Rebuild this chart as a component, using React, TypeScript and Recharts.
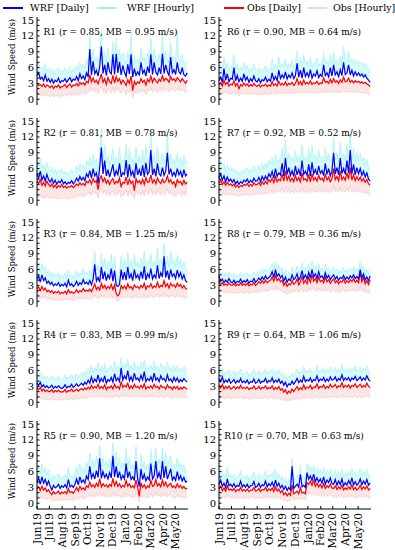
import React from 'react'
import { ComposedChart, Line, Area, XAxis, YAxis } from 'recharts'

document.body.style.margin = '0'

// one sample every 4 days, 1 Jun 2019 -> 30 May 2020
const DAY_STEP = 4
const DAYS = Array.from({ length: 92 }, (_, i) => i * DAY_STEP)
const MONTH_TICKS = [0, 30, 61, 92, 122, 153, 183, 214, 245, 274, 305, 335]
const MONTH_LABELS = ['Jun19', 'Jul19', 'Aug19', 'Sep19', 'Oct19', 'Nov19', 'Dec19', 'Jan20', 'Feb20', 'Mar20', 'Apr20', 'May20']
const Y_TICKS = [0, 1, 2, 3, 4, 5, 6, 7, 8, 9, 10, 11, 12, 13, 14, 15]

const R1_WRF_DAILY = [4.5, 5.0, 3.8, 4.2, 3.5, 4.6, 3.4, 3.9, 3.2, 3.8, 3.0, 3.6, 3.3, 4.0, 3.1, 3.5, 3.4, 3.9, 3.2, 3.7, 4.1, 3.3, 3.8, 3.6, 4.3, 3.5, 4.8, 3.9, 4.4, 3.7, 5.0, 4.2, 9.5, 4.6, 7.2, 4.8, 5.5, 4.4, 6.2, 10.0, 4.9, 6.5, 4.5, 7.0, 5.2, 4.8, 8.5, 4.7, 8.6, 5.0, 7.1, 4.6, 6.4, 5.1, 4.3, 6.6, 4.8, 8.5, 4.2, 5.8, 4.5, 5.2, 4.6, 7.0, 4.9, 5.5, 4.4, 6.2, 5.0, 8.5, 4.7, 7.0, 5.1, 4.6, 6.0, 4.8, 8.6, 4.9, 6.5, 5.2, 4.5, 8.0, 5.0, 5.6, 4.7, 7.0, 5.2, 4.8, 6.0, 4.6, 4.4, 5.0]
const R1_OBS_DAILY = [3.0, 2.6, 2.8, 2.4, 2.9, 2.3, 2.7, 2.5, 2.2, 2.6, 2.0, 2.5, 2.3, 2.7, 2.1, 2.4, 2.5, 2.8, 2.2, 2.6, 2.9, 2.3, 2.7, 2.6, 3.0, 2.5, 3.2, 2.8, 3.1, 2.7, 3.4, 3.1, 4.6, 3.3, 4.0, 3.2, 3.6, 2.9, 3.8, 4.8, 3.2, 3.9, 2.8, 4.1, 3.3, 3.0, 4.5, 3.1, 4.3, 3.4, 3.9, 2.9, 3.6, 3.2, 2.6, 3.7, 3.0, 4.4, 1.6, 3.4, 2.8, 3.3, 3.0, 3.9, 3.2, 3.6, 2.7, 3.8, 3.3, 4.4, 3.2, 4.0, 3.5, 3.1, 3.8, 3.4, 4.5, 3.5, 4.0, 3.7, 3.2, 4.3, 3.6, 3.9, 3.4, 4.1, 3.7, 3.3, 3.9, 3.5, 3.0, 3.6]
const R1_WRF_HOURLY_MAX = [6.5, 7.0, 5.8, 6.2, 5.5, 6.8, 5.2, 5.9, 5.0, 5.8, 4.8, 5.5, 5.2, 6.0, 4.9, 5.4, 5.3, 5.9, 5.0, 5.6, 6.2, 5.1, 5.8, 5.6, 6.5, 5.4, 7.0, 6.0, 6.6, 5.7, 7.5, 6.5, 12.0, 7.0, 9.5, 7.2, 8.0, 6.8, 9.0, 13.0, 7.2, 9.0, 6.8, 9.8, 7.5, 7.0, 11.0, 7.0, 11.5, 7.4, 9.5, 7.0, 8.8, 7.5, 6.6, 9.0, 7.2, 12.5, 6.4, 8.2, 6.8, 7.6, 6.9, 9.6, 7.3, 8.0, 6.7, 8.8, 7.4, 11.5, 7.0, 9.5, 7.6, 6.9, 8.5, 7.2, 12.5, 7.3, 9.0, 7.7, 6.8, 11.0, 7.4, 8.1, 7.0, 13.0, 7.6, 7.1, 8.5, 6.9, 6.6, 7.4]
const R1_OBS_HOURLY_MIN = [1.2, 0.8, 1.0, 0.6, 1.1, 0.5, 0.9, 0.7, 0.5, 0.8, 0.4, 0.7, 0.6, 0.9, 0.4, 0.6, 0.7, 1.0, 0.5, 0.8, 1.1, 0.6, 0.9, 0.8, 1.2, 0.7, 1.4, 1.0, 1.3, 0.9, 1.5, 1.3, 2.4, 1.5, 2.0, 1.4, 1.7, 1.1, 1.9, 2.5, 1.4, 1.9, 1.0, 2.1, 1.5, 1.2, 2.3, 1.3, 2.2, 1.6, 1.9, 1.1, 1.7, 1.4, 0.9, 1.8, 1.2, 2.2, 0.3, 1.6, 1.0, 1.5, 1.2, 1.9, 1.4, 1.7, 0.9, 1.8, 1.5, 2.2, 1.4, 2.0, 1.6, 1.3, 1.8, 1.5, 2.3, 1.6, 2.0, 1.8, 1.4, 2.1, 1.7, 1.9, 1.5, 2.0, 1.8, 1.4, 1.9, 1.6, 1.2, 1.7]

const R2_WRF_DAILY = [5.0, 4.2, 5.5, 3.8, 4.6, 3.6, 4.9, 3.9, 3.4, 4.1, 3.2, 3.8, 3.0, 3.6, 3.3, 3.9, 3.1, 3.5, 3.0, 3.4, 3.2, 3.7, 3.1, 3.5, 4.2, 3.6, 4.5, 3.8, 4.3, 3.7, 5.0, 4.4, 5.6, 4.2, 6.0, 4.6, 5.2, 3.2, 6.2, 10.0, 5.0, 7.5, 4.6, 5.8, 4.4, 5.5, 6.8, 4.5, 5.6, 4.8, 7.0, 4.4, 5.2, 4.9, 7.6, 4.3, 6.8, 4.7, 5.5, 4.2, 7.0, 4.8, 5.8, 4.6, 6.6, 4.4, 7.1, 4.9, 5.4, 9.5, 4.8, 6.0, 4.5, 7.0, 5.0, 4.6, 6.2, 4.7, 5.5, 9.0, 4.9, 6.0, 4.6, 5.3, 4.5, 6.0, 4.8, 5.5, 4.3, 5.8, 4.6, 5.0]
const R2_OBS_DAILY = [3.6, 3.2, 3.9, 2.8, 3.4, 2.7, 3.6, 3.0, 2.6, 3.1, 2.4, 2.9, 2.3, 2.8, 2.5, 3.0, 2.4, 2.7, 2.3, 2.6, 2.5, 2.8, 2.4, 2.7, 3.1, 2.8, 3.3, 2.9, 3.2, 2.8, 3.6, 3.3, 3.9, 3.1, 4.1, 3.4, 3.7, 2.0, 4.0, 4.6, 3.5, 4.2, 3.2, 3.8, 3.0, 3.7, 4.1, 3.1, 3.6, 3.3, 4.2, 2.6, 3.4, 3.2, 4.4, 2.9, 4.0, 3.2, 3.6, 1.8, 4.1, 3.3, 3.7, 3.1, 4.0, 3.0, 4.3, 3.4, 3.5, 4.8, 3.3, 3.9, 3.1, 4.2, 3.5, 3.2, 4.0, 3.3, 3.6, 4.6, 3.4, 3.9, 3.1, 3.5, 2.6, 3.9, 3.3, 3.6, 2.9, 3.8, 3.1, 3.4]
const R2_WRF_HOURLY_MAX = [7.5, 6.4, 8.0, 6.0, 6.9, 5.7, 7.2, 6.0, 5.4, 6.3, 5.1, 5.9, 4.9, 5.6, 5.2, 6.0, 5.0, 5.5, 4.8, 5.4, 5.1, 5.8, 5.0, 5.5, 6.5, 5.7, 6.9, 6.0, 6.6, 5.8, 7.5, 6.8, 8.2, 6.5, 8.8, 7.0, 7.8, 5.4, 9.0, 13.5, 7.5, 10.5, 7.0, 8.5, 6.8, 8.0, 9.8, 6.9, 8.2, 7.2, 10.0, 6.8, 7.7, 7.3, 10.8, 6.6, 9.8, 7.1, 8.0, 6.4, 10.0, 7.2, 8.4, 7.0, 9.5, 6.7, 10.2, 7.3, 7.9, 12.8, 7.2, 8.8, 6.9, 10.0, 7.5, 7.0, 9.0, 7.1, 8.1, 12.5, 7.3, 8.8, 7.0, 7.8, 6.9, 8.8, 7.2, 8.0, 6.6, 8.5, 7.0, 7.4]
const R2_OBS_HOURLY_MIN = [1.0, 0.6, 1.2, 0.4, 0.8, 0.3, 1.0, 0.5, 0.3, 0.6, 0.2, 0.5, 0.2, 0.4, 0.3, 0.6, 0.3, 0.5, 0.2, 0.4, 0.3, 0.6, 0.3, 0.5, 0.9, 0.6, 1.1, 0.7, 1.0, 0.6, 1.3, 1.1, 1.6, 0.9, 1.8, 1.2, 1.5, 0.4, 1.7, 2.2, 1.3, 1.9, 1.0, 1.6, 0.9, 1.5, 1.8, 0.9, 1.4, 1.1, 1.9, 0.6, 1.2, 1.0, 2.0, 0.8, 1.8, 1.0, 1.4, 0.3, 1.9, 1.1, 1.5, 0.9, 1.8, 0.8, 2.0, 1.2, 1.3, 2.3, 1.1, 1.7, 0.9, 1.9, 1.3, 1.0, 1.8, 1.1, 1.4, 2.2, 1.2, 1.7, 0.9, 1.3, 0.6, 1.7, 1.1, 1.4, 0.8, 1.6, 0.9, 1.2]

const R3_WRF_DAILY = [4.2, 4.8, 3.6, 5.0, 3.9, 4.4, 3.4, 3.8, 3.2, 3.6, 2.9, 3.3, 3.0, 3.5, 2.8, 3.2, 2.9, 3.4, 2.7, 4.0, 3.0, 3.3, 2.8, 3.1, 3.8, 3.0, 3.5, 3.2, 4.1, 3.3, 3.6, 3.2, 3.9, 3.1, 4.2, 7.0, 3.8, 4.5, 3.6, 6.5, 4.2, 5.6, 3.9, 5.0, 4.3, 6.2, 3.8, 5.8, 3.0, 2.8, 3.2, 6.0, 4.1, 5.5, 4.0, 6.5, 4.3, 5.2, 3.9, 6.0, 4.4, 5.0, 4.1, 5.6, 4.3, 6.6, 4.0, 5.2, 4.5, 6.2, 4.2, 5.0, 4.4, 6.8, 4.3, 5.4, 4.6, 8.5, 4.5, 5.8, 4.1, 6.0, 4.7, 5.2, 4.3, 5.9, 4.6, 5.4, 4.2, 5.0, 3.9, 3.6]
const R3_OBS_DAILY = [2.4, 2.7, 2.0, 2.8, 2.1, 2.5, 1.8, 2.1, 1.7, 2.0, 1.5, 1.8, 1.6, 1.9, 1.4, 1.7, 1.5, 1.9, 1.4, 2.2, 1.6, 1.8, 1.5, 1.7, 2.2, 1.6, 2.0, 1.8, 2.4, 1.9, 2.1, 1.9, 2.3, 1.8, 2.5, 3.3, 2.2, 2.7, 2.1, 3.4, 2.5, 3.0, 2.3, 2.8, 2.4, 3.2, 2.2, 3.1, 1.4, 1.0, 1.5, 3.0, 2.4, 2.9, 2.3, 3.3, 2.5, 2.8, 2.2, 3.1, 2.6, 2.8, 2.4, 3.0, 2.6, 3.4, 2.3, 2.9, 2.7, 3.3, 2.5, 2.9, 2.6, 3.6, 2.6, 3.0, 2.8, 3.9, 2.8, 3.3, 2.5, 3.4, 2.9, 3.1, 2.6, 3.4, 2.8, 3.2, 2.5, 3.0, 2.4, 2.3]
const R3_WRF_HOURLY_MAX = [6.5, 7.0, 5.6, 7.2, 5.9, 6.5, 5.3, 5.8, 5.0, 5.5, 4.6, 5.1, 4.7, 5.4, 4.4, 5.0, 4.6, 5.3, 4.3, 6.0, 4.7, 5.1, 4.4, 4.9, 5.8, 4.7, 5.4, 5.0, 6.2, 5.1, 5.5, 5.0, 6.0, 4.9, 6.5, 9.5, 5.9, 6.8, 5.6, 9.0, 6.4, 8.2, 6.0, 7.5, 6.6, 9.0, 5.9, 8.5, 4.8, 4.6, 5.0, 8.6, 6.3, 8.0, 6.2, 9.2, 6.6, 7.8, 6.0, 8.8, 6.7, 7.5, 6.3, 8.2, 6.6, 9.5, 6.2, 7.7, 6.9, 9.0, 6.5, 7.5, 6.8, 10.0, 6.6, 8.0, 7.0, 11.0, 6.9, 8.6, 6.3, 9.5, 7.1, 7.8, 6.6, 8.7, 7.0, 8.0, 6.4, 7.5, 6.0, 5.6]
const R3_OBS_HOURLY_MIN = [0.7, 0.9, 0.4, 1.0, 0.5, 0.8, 0.3, 0.5, 0.3, 0.4, 0.2, 0.3, 0.2, 0.4, 0.2, 0.3, 0.2, 0.4, 0.2, 0.6, 0.3, 0.4, 0.2, 0.3, 0.6, 0.3, 0.5, 0.4, 0.7, 0.4, 0.5, 0.4, 0.6, 0.3, 0.7, 1.2, 0.6, 0.8, 0.5, 1.3, 0.7, 1.0, 0.6, 0.9, 0.6, 1.1, 0.5, 1.0, 0.2, 0.1, 0.3, 1.0, 0.6, 0.9, 0.6, 1.2, 0.7, 0.9, 0.5, 1.1, 0.7, 0.9, 0.6, 1.0, 0.7, 1.3, 0.5, 0.9, 0.8, 1.2, 0.7, 0.9, 0.8, 1.4, 0.7, 1.0, 0.8, 1.6, 0.8, 1.2, 0.6, 1.2, 0.9, 1.0, 0.7, 1.2, 0.8, 1.1, 0.6, 0.9, 0.5, 0.5]

const R4_WRF_DAILY = [3.6, 3.2, 3.8, 2.9, 3.3, 2.8, 3.1, 2.7, 2.9, 3.2, 2.6, 3.0, 2.7, 3.1, 2.8, 2.6, 2.8, 3.3, 2.7, 3.0, 2.9, 3.4, 2.8, 3.1, 3.5, 3.0, 3.3, 3.6, 3.2, 3.8, 3.4, 4.2, 3.6, 4.8, 3.7, 4.4, 3.9, 5.2, 3.8, 4.5, 3.9, 5.0, 3.6, 4.3, 4.0, 4.7, 3.8, 5.4, 4.1, 4.6, 3.9, 6.5, 4.2, 5.0, 4.4, 6.0, 4.1, 4.8, 4.0, 5.5, 4.3, 4.6, 4.0, 5.1, 4.2, 5.8, 3.9, 4.5, 4.1, 4.8, 4.0, 5.5, 4.2, 4.6, 3.9, 5.0, 4.3, 4.5, 3.9, 5.2, 4.1, 4.4, 3.8, 4.7, 4.0, 4.6, 3.8, 4.3, 3.9, 4.5, 4.1, 3.8]
const R4_OBS_DAILY = [2.7, 2.4, 2.8, 2.1, 2.5, 2.0, 2.3, 2.0, 2.1, 2.4, 1.9, 2.2, 2.0, 2.3, 2.0, 1.9, 2.0, 2.4, 1.9, 2.2, 2.1, 2.5, 2.0, 2.2, 2.5, 2.1, 2.4, 2.6, 2.3, 2.7, 2.4, 2.9, 2.5, 3.2, 2.6, 3.0, 2.7, 3.4, 2.6, 3.0, 2.6, 3.3, 2.4, 2.9, 2.7, 3.1, 2.5, 3.4, 2.7, 3.0, 2.5, 3.9, 2.8, 3.2, 2.9, 3.6, 2.6, 3.1, 2.6, 3.4, 2.8, 3.0, 2.6, 3.2, 2.7, 3.5, 2.5, 2.9, 2.7, 3.1, 2.6, 3.4, 2.8, 3.0, 2.5, 3.2, 2.8, 2.9, 2.5, 3.3, 2.7, 2.9, 2.4, 3.0, 2.6, 3.0, 2.4, 2.8, 2.5, 2.9, 2.7, 2.5]
const R4_WRF_HOURLY_MAX = [5.5, 5.0, 5.8, 4.6, 5.1, 4.5, 4.9, 4.4, 4.6, 5.0, 4.2, 4.7, 4.3, 4.9, 4.5, 4.2, 4.5, 5.2, 4.3, 4.7, 4.6, 5.3, 4.5, 4.9, 5.4, 4.7, 5.2, 5.6, 5.0, 5.9, 5.3, 6.3, 5.5, 7.0, 5.6, 6.6, 5.9, 7.5, 5.8, 6.8, 5.9, 7.4, 5.5, 6.5, 6.1, 7.0, 5.8, 7.8, 6.2, 6.9, 5.9, 8.5, 6.4, 7.4, 6.6, 8.2, 6.2, 7.1, 6.1, 7.8, 6.5, 6.9, 6.1, 7.5, 6.4, 8.0, 5.9, 6.8, 6.2, 7.1, 6.1, 7.9, 6.4, 6.9, 5.9, 7.4, 6.5, 6.8, 5.9, 7.6, 6.2, 6.6, 5.8, 7.0, 6.1, 6.9, 5.8, 6.5, 5.9, 6.8, 6.2, 5.8]
const R4_OBS_HOURLY_MIN = [0.9, 0.7, 1.0, 0.5, 0.8, 0.4, 0.6, 0.4, 0.5, 0.7, 0.4, 0.6, 0.4, 0.6, 0.4, 0.4, 0.4, 0.7, 0.4, 0.6, 0.5, 0.8, 0.4, 0.6, 0.8, 0.5, 0.7, 0.9, 0.6, 1.0, 0.7, 1.1, 0.8, 1.3, 0.9, 1.2, 0.9, 1.4, 0.9, 1.2, 0.9, 1.3, 0.7, 1.1, 0.9, 1.2, 0.8, 1.4, 1.0, 1.2, 0.8, 1.6, 1.0, 1.3, 1.1, 1.5, 0.9, 1.2, 0.9, 1.4, 1.0, 1.2, 0.9, 1.3, 1.0, 1.4, 0.8, 1.1, 1.0, 1.2, 0.9, 1.4, 1.0, 1.2, 0.8, 1.3, 1.0, 1.1, 0.8, 1.3, 1.0, 1.1, 0.7, 1.2, 0.9, 1.2, 0.8, 1.0, 0.8, 1.1, 0.9, 0.8]

const R5_WRF_DAILY = [4.0, 4.8, 3.6, 5.0, 3.8, 4.5, 3.4, 4.2, 3.2, 2.5, 3.4, 2.9, 3.1, 3.6, 2.8, 3.3, 3.0, 3.5, 2.9, 4.5, 3.1, 3.4, 3.0, 3.6, 4.6, 3.5, 5.0, 3.9, 4.4, 3.8, 5.2, 4.5, 7.0, 4.8, 5.6, 4.6, 6.2, 4.9, 8.5, 4.7, 6.0, 4.9, 5.5, 4.6, 5.8, 4.8, 9.0, 5.0, 7.0, 4.8, 6.0, 4.5, 5.3, 4.6, 7.5, 4.8, 6.0, 4.5, 5.0, 4.3, 8.0, 4.6, 3.2, 6.5, 4.5, 5.5, 4.2, 5.0, 4.4, 7.5, 4.6, 5.2, 8.0, 4.7, 5.8, 4.5, 8.0, 4.8, 7.0, 4.6, 5.5, 6.5, 4.4, 5.0, 4.3, 6.0, 4.5, 5.2, 4.2, 4.9, 4.0, 4.2]
const R5_OBS_DAILY = [2.7, 3.1, 2.4, 3.2, 2.5, 2.9, 2.2, 2.6, 2.0, 1.6, 2.2, 1.8, 2.0, 2.3, 1.7, 2.1, 1.9, 2.2, 1.8, 2.8, 2.0, 2.2, 1.9, 2.4, 3.0, 2.3, 3.2, 2.6, 2.9, 2.5, 3.3, 3.0, 4.0, 3.1, 3.5, 3.0, 3.8, 3.2, 4.6, 3.1, 3.7, 3.2, 3.5, 3.0, 3.6, 3.2, 4.7, 3.3, 4.1, 3.2, 3.7, 3.0, 3.4, 3.1, 4.3, 3.2, 3.7, 3.0, 3.3, 2.9, 4.4, 3.1, 1.3, 3.9, 3.0, 3.5, 2.8, 3.3, 3.0, 4.3, 3.2, 3.4, 4.5, 3.3, 3.7, 3.1, 4.4, 3.3, 4.0, 3.1, 3.5, 3.8, 3.0, 3.3, 2.9, 3.7, 3.0, 3.4, 2.8, 3.2, 2.7, 2.9]
const R5_WRF_HOURLY_MAX = [6.2, 7.2, 5.6, 7.4, 5.9, 6.8, 5.3, 6.4, 5.0, 4.2, 5.3, 4.6, 4.9, 5.6, 4.5, 5.1, 4.7, 5.4, 4.6, 6.8, 4.9, 5.3, 4.7, 5.6, 7.0, 5.5, 7.5, 6.0, 6.8, 5.9, 7.8, 6.8, 9.5, 7.2, 8.2, 6.9, 9.0, 7.3, 11.0, 7.0, 8.6, 7.2, 8.0, 6.9, 8.4, 7.1, 11.5, 7.4, 9.8, 7.1, 8.6, 6.8, 7.8, 6.9, 10.5, 7.1, 8.6, 6.8, 7.4, 6.5, 10.8, 6.9, 5.0, 9.2, 6.8, 8.0, 6.4, 7.4, 6.6, 10.2, 6.9, 7.6, 10.6, 7.0, 8.4, 6.8, 10.5, 7.1, 9.6, 6.9, 8.0, 9.0, 6.6, 7.4, 6.5, 8.6, 6.7, 7.6, 6.3, 7.2, 6.0, 6.3]
const R5_OBS_HOURLY_MIN = [1.0, 1.3, 0.8, 1.4, 0.9, 1.1, 0.7, 0.9, 0.6, 0.4, 0.7, 0.5, 0.6, 0.7, 0.5, 0.6, 0.5, 0.7, 0.5, 1.0, 0.6, 0.7, 0.5, 0.8, 1.2, 0.7, 1.3, 0.9, 1.1, 0.8, 1.4, 1.2, 1.8, 1.2, 1.5, 1.1, 1.7, 1.3, 2.2, 1.2, 1.6, 1.3, 1.5, 1.1, 1.5, 1.2, 2.2, 1.3, 1.8, 1.2, 1.6, 1.1, 1.4, 1.2, 1.9, 1.2, 1.6, 1.1, 1.3, 1.0, 2.0, 1.2, 0.3, 1.7, 1.1, 1.5, 1.0, 1.3, 1.1, 1.9, 1.2, 1.4, 2.1, 1.3, 1.6, 1.2, 2.0, 1.3, 1.8, 1.2, 1.5, 1.7, 1.1, 1.3, 1.0, 1.6, 1.1, 1.4, 1.0, 1.2, 0.9, 1.0]

const R6_WRF_DAILY = [3.5, 4.2, 3.2, 5.8, 3.6, 4.8, 3.3, 4.0, 3.8, 6.0, 3.5, 4.5, 3.3, 4.0, 3.4, 4.8, 3.6, 4.2, 3.2, 3.9, 3.4, 4.4, 3.5, 3.3, 3.9, 3.1, 3.7, 3.5, 4.2, 3.3, 3.8, 3.4, 5.0, 3.6, 4.3, 3.5, 5.5, 3.9, 4.6, 4.0, 5.2, 3.8, 4.6, 4.1, 5.0, 3.9, 4.5, 6.8, 4.2, 5.5, 4.0, 6.0, 4.3, 5.0, 4.2, 5.6, 4.0, 4.8, 4.4, 5.4, 4.1, 4.7, 4.3, 6.5, 4.5, 5.0, 4.2, 6.0, 4.4, 6.5, 4.6, 5.2, 4.3, 5.6, 4.5, 7.0, 4.7, 5.0, 6.5, 4.6, 5.5, 4.4, 5.2, 4.5, 5.0, 4.4, 4.8, 4.2, 4.6, 4.0, 3.6, 3.2]
const R6_OBS_DAILY = [2.7, 3.1, 2.5, 3.6, 2.8, 3.2, 2.5, 2.9, 2.7, 3.5, 2.5, 3.0, 2.0, 2.8, 2.5, 3.1, 2.6, 2.9, 2.4, 2.8, 2.5, 3.0, 2.6, 2.4, 2.8, 2.3, 2.7, 2.5, 2.9, 2.4, 2.7, 2.5, 3.3, 2.6, 2.9, 2.5, 3.4, 2.7, 3.0, 2.7, 3.3, 2.6, 3.0, 2.8, 3.2, 2.6, 3.0, 3.9, 2.8, 3.4, 2.7, 3.6, 2.9, 3.2, 2.9, 3.5, 2.8, 3.1, 3.0, 3.4, 2.8, 3.1, 3.0, 4.0, 3.2, 3.4, 3.0, 3.8, 3.1, 3.9, 3.2, 3.5, 3.0, 3.7, 3.2, 4.2, 3.3, 3.4, 4.0, 3.2, 3.6, 3.1, 3.5, 3.2, 3.4, 3.1, 3.3, 3.0, 3.2, 2.9, 2.7, 2.4]
const R6_WRF_HOURLY_MAX = [5.5, 6.5, 5.2, 8.0, 5.8, 7.0, 5.3, 6.2, 6.0, 8.5, 5.6, 6.8, 5.3, 6.2, 5.4, 7.0, 5.7, 6.4, 5.1, 6.0, 5.4, 6.6, 5.5, 5.2, 6.0, 5.0, 5.8, 5.5, 6.4, 5.2, 5.9, 5.3, 7.5, 5.6, 6.5, 5.5, 8.0, 6.0, 6.8, 6.1, 7.6, 5.9, 6.8, 6.2, 7.4, 6.0, 6.7, 9.0, 6.3, 7.8, 6.1, 8.4, 6.5, 7.3, 6.3, 8.0, 6.1, 7.0, 6.6, 7.8, 6.2, 6.9, 6.5, 8.8, 6.7, 7.3, 6.4, 8.4, 6.6, 8.8, 6.8, 7.5, 6.5, 8.0, 6.7, 10.0, 6.9, 7.2, 9.0, 6.8, 7.8, 6.6, 7.5, 6.7, 7.2, 6.6, 7.0, 6.3, 6.8, 6.1, 5.6, 5.0]
const R6_OBS_HOURLY_MIN = [1.0, 1.3, 0.9, 1.6, 1.1, 1.4, 0.9, 1.2, 1.0, 1.5, 0.9, 1.2, 0.6, 1.1, 0.9, 1.3, 1.0, 1.2, 0.8, 1.1, 0.9, 1.2, 1.0, 0.8, 1.1, 0.8, 1.0, 0.9, 1.2, 0.8, 1.0, 0.9, 1.4, 1.0, 1.2, 0.9, 1.5, 1.0, 1.2, 1.0, 1.4, 1.0, 1.2, 1.1, 1.3, 1.0, 1.2, 1.7, 1.1, 1.4, 1.0, 1.5, 1.1, 1.3, 1.1, 1.5, 1.1, 1.3, 1.2, 1.4, 1.1, 1.3, 1.2, 1.7, 1.3, 1.4, 1.2, 1.6, 1.2, 1.6, 1.3, 1.4, 1.2, 1.5, 1.3, 1.8, 1.3, 1.4, 1.7, 1.3, 1.5, 1.2, 1.4, 1.3, 1.4, 1.2, 1.3, 1.2, 1.3, 1.1, 1.0, 0.8]

const R7_WRF_DAILY = [4.2, 5.0, 3.8, 4.6, 3.5, 4.4, 3.6, 4.0, 3.4, 3.9, 3.1, 3.6, 3.0, 3.5, 3.2, 3.8, 3.5, 4.0, 3.3, 3.8, 3.4, 4.2, 3.6, 3.7, 4.3, 3.5, 4.5, 3.8, 4.6, 3.9, 5.0, 4.4, 5.5, 4.2, 6.0, 4.5, 5.2, 4.8, 7.0, 4.6, 8.0, 4.9, 6.2, 4.7, 5.6, 4.5, 6.5, 4.8, 5.8, 4.6, 7.5, 4.9, 5.5, 4.7, 6.8, 4.6, 7.2, 5.0, 5.8, 4.8, 6.5, 5.1, 5.6, 4.7, 7.0, 4.9, 6.0, 4.6, 5.5, 9.0, 5.0, 6.2, 4.8, 8.0, 5.1, 6.0, 4.9, 7.5, 5.2, 9.5, 5.0, 6.8, 4.8, 6.2, 5.0, 6.0, 4.7, 5.5, 4.4, 5.2, 4.0, 3.6]
const R7_OBS_DAILY = [3.3, 3.8, 3.0, 3.5, 2.8, 3.4, 2.9, 3.1, 2.7, 3.1, 2.5, 2.9, 2.4, 2.8, 2.6, 3.0, 2.8, 3.2, 2.6, 3.0, 2.7, 3.3, 2.9, 3.0, 3.4, 2.8, 3.5, 3.0, 3.6, 3.1, 3.9, 3.5, 4.2, 3.3, 4.5, 3.5, 4.0, 3.7, 5.0, 3.6, 5.5, 3.8, 4.6, 3.6, 4.2, 3.5, 4.7, 3.7, 4.3, 3.5, 5.2, 3.8, 4.1, 3.6, 4.9, 3.5, 5.0, 3.8, 4.3, 3.6, 4.7, 3.9, 4.2, 3.6, 5.0, 3.8, 4.4, 3.5, 4.1, 6.0, 3.9, 4.5, 3.7, 5.5, 3.9, 4.4, 3.8, 5.2, 4.0, 6.2, 3.8, 4.8, 3.7, 4.5, 3.8, 4.4, 3.6, 4.1, 3.4, 3.9, 3.1, 2.9]
const R7_WRF_HOURLY_MAX = [6.5, 7.5, 6.0, 7.0, 5.6, 6.8, 5.7, 6.2, 5.4, 6.1, 5.0, 5.6, 4.9, 5.5, 5.1, 5.9, 5.5, 6.2, 5.2, 5.9, 5.4, 6.5, 5.6, 5.8, 6.6, 5.5, 7.0, 5.9, 7.1, 6.1, 7.6, 6.8, 8.2, 6.5, 8.8, 7.0, 7.8, 7.3, 10.0, 7.1, 11.5, 7.5, 9.0, 7.3, 8.3, 7.0, 9.4, 7.4, 8.5, 7.1, 10.5, 7.5, 8.2, 7.3, 9.8, 7.1, 10.2, 7.7, 8.6, 7.4, 9.5, 7.8, 8.3, 7.3, 10.0, 7.6, 8.8, 7.1, 8.2, 12.0, 7.7, 9.0, 7.4, 11.0, 7.8, 8.8, 7.5, 10.5, 7.9, 12.5, 7.7, 9.8, 7.4, 9.0, 7.6, 8.8, 7.2, 8.2, 6.8, 7.8, 6.2, 5.6]
const R7_OBS_HOURLY_MIN = [1.3, 1.6, 1.1, 1.4, 1.0, 1.3, 1.0, 1.2, 0.9, 1.2, 0.8, 1.0, 0.8, 1.0, 0.9, 1.1, 1.0, 1.2, 0.9, 1.1, 0.9, 1.3, 1.0, 1.1, 1.3, 1.0, 1.4, 1.1, 1.4, 1.2, 1.6, 1.4, 1.8, 1.3, 2.0, 1.4, 1.7, 1.5, 2.3, 1.4, 2.6, 1.5, 2.0, 1.4, 1.8, 1.3, 2.0, 1.5, 1.8, 1.4, 2.4, 1.5, 1.7, 1.4, 2.1, 1.4, 2.2, 1.5, 1.8, 1.4, 2.0, 1.6, 1.8, 1.4, 2.2, 1.5, 1.9, 1.4, 1.7, 2.8, 1.6, 1.9, 1.5, 2.5, 1.6, 1.9, 1.5, 2.3, 1.6, 2.9, 1.5, 2.1, 1.5, 1.9, 1.5, 1.9, 1.4, 1.7, 1.3, 1.6, 1.1, 1.0]

const R8_WRF_DAILY = [4.8, 3.8, 4.2, 3.5, 4.0, 3.6, 4.3, 3.7, 3.5, 4.0, 3.4, 3.8, 3.6, 4.2, 3.5, 3.9, 3.6, 4.1, 3.4, 3.8, 3.7, 4.3, 3.6, 3.9, 4.4, 4.0, 4.6, 4.1, 4.8, 4.2, 4.5, 4.8, 5.6, 4.5, 6.0, 4.7, 5.2, 4.4, 4.9, 3.8, 4.6, 3.6, 4.2, 3.9, 5.0, 4.1, 4.4, 5.2, 4.0, 4.6, 5.8, 4.3, 5.0, 4.2, 5.5, 4.4, 6.0, 4.6, 5.2, 4.3, 5.6, 4.5, 4.8, 4.2, 5.4, 4.4, 4.9, 4.1, 4.6, 5.0, 4.2, 4.7, 4.0, 4.5, 4.3, 4.9, 4.1, 4.6, 4.2, 4.8, 4.4, 5.0, 4.3, 4.7, 4.2, 6.0, 4.4, 5.2, 4.0, 4.6, 3.9, 4.8]
const R8_OBS_DAILY = [3.8, 3.2, 3.5, 3.0, 3.3, 3.0, 3.5, 3.1, 3.0, 3.4, 2.9, 3.2, 3.0, 3.5, 3.0, 3.3, 3.0, 3.4, 2.9, 3.2, 3.1, 3.6, 3.0, 3.3, 3.7, 3.4, 3.9, 3.4, 4.0, 3.5, 3.8, 4.0, 4.6, 3.8, 4.9, 3.9, 4.3, 3.7, 4.0, 3.0, 3.6, 2.8, 3.3, 3.1, 3.9, 3.2, 3.5, 4.2, 3.1, 3.7, 4.7, 3.4, 4.0, 3.3, 4.5, 3.6, 5.0, 3.8, 4.3, 3.5, 4.6, 3.7, 4.0, 3.5, 4.6, 3.7, 4.1, 3.4, 3.9, 4.2, 3.5, 3.9, 3.3, 3.8, 3.6, 4.2, 3.4, 3.9, 3.5, 4.1, 3.7, 4.3, 3.6, 4.0, 3.5, 5.5, 3.7, 4.5, 3.3, 3.9, 3.2, 4.0]
const R8_WRF_HOURLY_MAX = [6.2, 5.0, 5.5, 4.7, 5.3, 4.8, 5.6, 4.9, 4.7, 5.3, 4.6, 5.0, 4.8, 5.5, 4.7, 5.2, 4.8, 5.4, 4.6, 5.0, 4.9, 5.6, 4.8, 5.1, 5.8, 5.2, 6.0, 5.4, 6.2, 5.5, 5.9, 6.2, 7.2, 5.9, 7.5, 6.1, 6.8, 5.8, 6.4, 5.0, 6.0, 4.8, 5.5, 5.1, 6.5, 5.4, 5.8, 6.7, 5.3, 6.0, 7.3, 5.6, 6.5, 5.5, 7.0, 5.8, 7.6, 6.0, 6.7, 5.6, 7.2, 5.9, 6.3, 5.5, 7.0, 5.8, 6.4, 5.4, 6.0, 6.5, 5.5, 6.1, 5.3, 5.9, 5.6, 6.4, 5.4, 6.0, 5.5, 6.3, 5.8, 6.5, 5.6, 6.1, 5.5, 7.6, 5.8, 6.7, 5.3, 6.0, 5.1, 6.2]
const R8_OBS_HOURLY_MIN = [2.2, 1.7, 1.9, 1.5, 1.8, 1.5, 1.9, 1.6, 1.5, 1.8, 1.4, 1.7, 1.5, 1.9, 1.5, 1.7, 1.5, 1.8, 1.4, 1.7, 1.6, 1.9, 1.5, 1.7, 2.0, 1.8, 2.1, 1.8, 2.2, 1.9, 2.0, 2.2, 2.6, 2.0, 2.8, 2.1, 2.4, 2.0, 2.2, 1.5, 1.9, 1.3, 1.7, 1.6, 2.1, 1.7, 1.9, 2.3, 1.6, 2.0, 2.6, 1.8, 2.2, 1.7, 2.5, 1.9, 2.8, 2.0, 2.3, 1.8, 2.5, 1.9, 2.1, 1.8, 2.5, 1.9, 2.2, 1.7, 2.0, 2.3, 1.8, 2.1, 1.6, 2.0, 1.9, 2.3, 1.7, 2.1, 1.8, 2.2, 1.9, 2.4, 1.8, 2.1, 1.8, 3.0, 1.9, 2.4, 1.6, 2.0, 1.5, 2.1]

const R9_WRF_DAILY = [4.5, 3.9, 4.8, 3.7, 4.2, 3.8, 4.4, 3.6, 3.9, 4.3, 3.6, 4.1, 3.8, 4.5, 3.7, 4.0, 3.7, 4.2, 3.5, 3.9, 3.8, 4.4, 3.6, 3.8, 4.3, 3.6, 4.0, 3.9, 4.5, 3.7, 4.1, 3.9, 4.6, 3.7, 4.2, 3.8, 4.4, 3.6, 4.0, 3.2, 3.8, 2.9, 3.5, 3.3, 4.0, 3.4, 3.9, 4.5, 3.7, 4.2, 3.8, 4.9, 3.9, 4.3, 4.0, 4.6, 3.8, 4.3, 4.1, 5.0, 3.9, 4.4, 4.1, 4.7, 3.9, 4.4, 4.0, 4.8, 4.2, 4.3, 4.8, 4.0, 4.5, 4.2, 5.2, 4.1, 4.6, 4.2, 4.7, 4.0, 4.6, 4.3, 4.9, 4.1, 4.4, 4.8, 4.1, 4.6, 4.2, 5.0, 4.3, 4.0]
const R9_OBS_DAILY = [3.2, 2.7, 3.4, 2.5, 3.0, 2.6, 3.1, 2.5, 2.7, 3.0, 2.5, 2.9, 2.6, 3.2, 2.6, 2.8, 2.6, 2.9, 2.4, 2.7, 2.6, 3.1, 2.5, 2.6, 3.0, 2.5, 2.8, 2.7, 3.1, 2.5, 2.8, 2.6, 3.1, 2.4, 2.8, 2.5, 3.0, 2.3, 2.6, 1.9, 2.4, 1.6, 2.1, 1.8, 2.5, 2.0, 2.5, 3.0, 2.3, 2.8, 2.4, 3.3, 2.5, 2.9, 2.7, 3.2, 2.5, 2.9, 2.8, 3.5, 2.6, 3.0, 2.8, 3.3, 2.6, 3.0, 2.7, 3.4, 2.9, 3.0, 3.4, 2.7, 3.1, 2.9, 3.7, 2.8, 3.2, 2.9, 3.3, 2.7, 3.2, 3.0, 3.5, 2.8, 3.1, 3.4, 2.8, 3.2, 2.9, 3.6, 3.0, 2.8]
const R9_WRF_HOURLY_MAX = [6.2, 5.5, 6.6, 5.2, 5.8, 5.4, 6.1, 5.1, 5.5, 6.0, 5.1, 5.7, 5.4, 6.3, 5.2, 5.6, 5.2, 5.9, 5.0, 5.5, 5.4, 6.2, 5.1, 5.4, 6.0, 5.1, 5.6, 5.5, 6.3, 5.2, 5.8, 5.5, 6.4, 5.2, 5.9, 5.4, 6.2, 5.1, 5.6, 4.6, 5.4, 4.2, 5.0, 4.7, 5.6, 4.8, 5.5, 6.3, 5.2, 5.9, 5.4, 6.8, 5.5, 6.0, 5.6, 6.4, 5.4, 6.0, 5.8, 7.0, 5.5, 6.2, 5.8, 6.6, 5.5, 6.2, 5.6, 6.7, 5.9, 6.0, 6.7, 5.6, 6.3, 5.9, 7.2, 5.8, 6.4, 5.9, 6.6, 5.6, 6.4, 6.0, 6.9, 5.8, 6.2, 6.7, 5.8, 6.4, 5.9, 7.0, 6.0, 5.6]
const R9_OBS_HOURLY_MIN = [1.2, 0.8, 1.3, 0.6, 1.0, 0.7, 1.1, 0.6, 0.8, 1.0, 0.6, 0.9, 0.7, 1.2, 0.7, 0.8, 0.7, 0.9, 0.5, 0.8, 0.7, 1.1, 0.6, 0.7, 1.0, 0.6, 0.8, 0.8, 1.1, 0.6, 0.9, 0.7, 1.1, 0.5, 0.9, 0.6, 1.0, 0.4, 0.7, 0.3, 0.6, 0.2, 0.4, 0.3, 0.7, 0.4, 0.6, 1.0, 0.5, 0.8, 0.6, 1.2, 0.6, 0.9, 0.8, 1.1, 0.6, 0.9, 0.8, 1.3, 0.7, 1.0, 0.8, 1.2, 0.7, 1.0, 0.8, 1.2, 0.9, 1.0, 1.2, 0.8, 1.1, 0.9, 1.4, 0.8, 1.1, 0.9, 1.2, 0.8, 1.1, 1.0, 1.3, 0.8, 1.0, 1.2, 0.8, 1.1, 0.9, 1.3, 1.0, 0.8]

const R10_WRF_DAILY = [3.5, 4.4, 3.2, 3.8, 3.0, 4.6, 3.3, 3.6, 3.1, 3.7, 3.0, 3.4, 3.2, 4.2, 3.1, 3.5, 3.0, 3.6, 2.9, 3.3, 3.4, 4.1, 3.0, 3.2, 3.8, 3.0, 3.5, 3.3, 4.2, 3.1, 3.7, 3.3, 4.0, 3.1, 4.4, 3.2, 3.8, 2.9, 3.4, 2.6, 3.2, 2.4, 3.0, 2.5, 7.0, 2.8, 3.2, 3.6, 3.0, 5.5, 3.1, 3.4, 3.0, 5.8, 4.5, 5.2, 4.3, 5.5, 4.1, 4.8, 4.0, 4.6, 3.8, 5.0, 3.6, 4.4, 3.9, 4.8, 3.7, 3.6, 4.5, 3.4, 4.2, 3.5, 4.6, 3.3, 3.9, 3.4, 4.3, 3.6, 4.8, 3.5, 4.1, 3.4, 3.8, 4.6, 3.5, 4.2, 3.6, 4.5, 3.4, 3.8]
const R10_OBS_DAILY = [2.7, 3.2, 2.4, 2.9, 2.3, 3.3, 2.5, 2.7, 2.4, 2.8, 2.2, 2.6, 2.4, 3.0, 2.3, 2.6, 2.3, 2.7, 2.2, 2.5, 2.5, 3.0, 2.3, 2.4, 2.8, 2.2, 2.6, 2.5, 3.0, 2.3, 2.7, 2.4, 2.9, 2.2, 3.1, 2.3, 2.7, 2.0, 2.4, 1.6, 2.0, 1.4, 1.9, 1.5, 3.5, 1.8, 2.0, 2.3, 1.8, 2.9, 1.9, 2.1, 1.8, 3.9, 3.6, 4.2, 3.4, 4.3, 3.2, 3.8, 3.1, 3.6, 2.9, 3.7, 2.8, 3.3, 3.0, 3.6, 2.9, 2.8, 3.3, 2.6, 3.1, 2.7, 3.4, 2.5, 2.9, 2.6, 3.1, 2.7, 3.5, 2.6, 3.0, 2.5, 2.8, 3.4, 2.6, 3.1, 2.7, 3.3, 2.5, 2.8]
const R10_WRF_HOURLY_MAX = [5.2, 6.5, 4.9, 5.6, 4.6, 6.8, 5.0, 5.4, 4.8, 5.5, 4.6, 5.1, 4.9, 6.2, 4.7, 5.2, 4.6, 5.4, 4.4, 5.0, 5.1, 6.0, 4.6, 4.9, 5.6, 4.6, 5.3, 5.0, 6.2, 4.7, 5.5, 5.0, 5.9, 4.7, 6.5, 4.9, 5.6, 4.4, 5.1, 4.0, 4.8, 3.7, 4.5, 3.9, 8.5, 4.3, 4.8, 5.3, 4.6, 7.2, 4.7, 5.1, 4.5, 7.5, 6.3, 7.0, 6.0, 7.2, 5.8, 6.6, 5.7, 6.4, 5.5, 6.8, 5.3, 6.2, 5.6, 6.6, 5.4, 5.3, 6.3, 5.0, 6.0, 5.2, 6.5, 4.9, 5.7, 5.0, 6.1, 5.3, 6.7, 5.2, 5.9, 5.0, 5.6, 6.5, 5.2, 6.0, 5.3, 6.4, 5.0, 5.6]
const R10_OBS_HOURLY_MIN = [1.2, 1.5, 1.0, 1.3, 0.9, 1.6, 1.1, 1.2, 1.0, 1.3, 0.9, 1.1, 1.0, 1.4, 0.9, 1.1, 0.9, 1.2, 0.9, 1.1, 1.1, 1.4, 0.9, 1.0, 1.3, 0.9, 1.1, 1.0, 1.4, 0.9, 1.2, 1.0, 1.3, 0.9, 1.4, 0.9, 1.2, 0.7, 1.0, 0.4, 0.7, 0.3, 0.6, 0.4, 1.5, 0.6, 0.7, 0.9, 0.6, 1.2, 0.7, 0.8, 0.6, 1.8, 1.7, 2.0, 1.6, 2.1, 1.5, 1.8, 1.4, 1.7, 1.3, 1.7, 1.2, 1.5, 1.4, 1.7, 1.3, 1.2, 1.5, 1.1, 1.4, 1.2, 1.6, 1.0, 1.3, 1.1, 1.4, 1.2, 1.6, 1.1, 1.4, 1.0, 1.2, 1.6, 1.1, 1.4, 1.2, 1.5, 1.0, 1.2]

const PANELS = [
  { name: 'R1', r: '0.85', mb: '0.95', wrfD: R1_WRF_DAILY, obsD: R1_OBS_DAILY, wrfH: R1_WRF_HOURLY_MAX, obsH: R1_OBS_HOURLY_MIN },
  { name: 'R2', r: '0.81', mb: '0.78', wrfD: R2_WRF_DAILY, obsD: R2_OBS_DAILY, wrfH: R2_WRF_HOURLY_MAX, obsH: R2_OBS_HOURLY_MIN },
  { name: 'R3', r: '0.84', mb: '1.25', wrfD: R3_WRF_DAILY, obsD: R3_OBS_DAILY, wrfH: R3_WRF_HOURLY_MAX, obsH: R3_OBS_HOURLY_MIN },
  { name: 'R4', r: '0.83', mb: '0.99', wrfD: R4_WRF_DAILY, obsD: R4_OBS_DAILY, wrfH: R4_WRF_HOURLY_MAX, obsH: R4_OBS_HOURLY_MIN },
  { name: 'R5', r: '0.90', mb: '1.20', wrfD: R5_WRF_DAILY, obsD: R5_OBS_DAILY, wrfH: R5_WRF_HOURLY_MAX, obsH: R5_OBS_HOURLY_MIN },
  { name: 'R6', r: '0.90', mb: '0.64', wrfD: R6_WRF_DAILY, obsD: R6_OBS_DAILY, wrfH: R6_WRF_HOURLY_MAX, obsH: R6_OBS_HOURLY_MIN },
  { name: 'R7', r: '0.92', mb: '0.52', wrfD: R7_WRF_DAILY, obsD: R7_OBS_DAILY, wrfH: R7_WRF_HOURLY_MAX, obsH: R7_OBS_HOURLY_MIN },
  { name: 'R8', r: '0.79', mb: '0.36', wrfD: R8_WRF_DAILY, obsD: R8_OBS_DAILY, wrfH: R8_WRF_HOURLY_MAX, obsH: R8_OBS_HOURLY_MIN },
  { name: 'R9', r: '0.64', mb: '1.06', wrfD: R9_WRF_DAILY, obsD: R9_OBS_DAILY, wrfH: R9_WRF_HOURLY_MAX, obsH: R9_OBS_HOURLY_MIN },
  { name: 'R10', r: '0.70', mb: '0.63', wrfD: R10_WRF_DAILY, obsD: R10_OBS_DAILY, wrfH: R10_WRF_HOURLY_MAX, obsH: R10_OBS_HOURLY_MIN },
]

const FONT = "'DejaVu Serif', 'Liberation Serif', 'Times New Roman', serif"
const C_WRF = '#0000ff'
const C_WRF_H = '#bdf7f7'
const C_OBS = '#ff0000'
const C_OBS_H = '#f9d6d6'

const YTick = ({ x, y, payload }: any) => {
  if (payload.value % 3 !== 0) return <g />
  return (
    <text x={x} y={y} dy="0.35em" textAnchor="end" fontSize={10} fontFamily={FONT} fill="#000">
      {payload.value}
    </text>
  )
}

const MonthTick = ({ x, y, payload }: any) => {
  const label = MONTH_LABELS[MONTH_TICKS.indexOf(payload.value)]
  return (
    <text x={x} y={y} dy="0.35em" textAnchor="end" transform={`rotate(-90 ${x} ${y})`} fontSize={10.5} fontFamily={FONT} fill="#000">
      {label}
    </text>
  )
}

function Panel({ p, idx }: { p: any; idx: number }) {
  const col = idx < 5 ? 0 : 1
  const row = idx % 5
  const last = row === 4
  const frameTop = 17 + 101 * row
  const left = col === 0 ? 0 : 200
  const width = col === 0 ? 200 : 195
  const axisW = col === 0 ? 37 : 19
  const rightM = col === 0 ? 12 : 24
  const height = last ? 6 + 88 + 44 : 100
  const data = DAYS.map((d, i) => ({ day: d, wrfD: p.wrfD[i], obsD: p.obsD[i], wrfH: p.wrfH[i], obsH: p.obsH[i] }))
  const axisCommon = { stroke: '#000', tickLine: { stroke: '#000' }, axisLine: { stroke: '#000' } }

  return (
    <div style={{ position: 'absolute', left, top: frameTop - 6 }}>
      <ComposedChart width={width} height={height} data={data} margin={{ top: 6, right: rightM, bottom: last ? 0 : 6, left: 0 }}>
        <XAxis xAxisId="b" dataKey="day" type="number" domain={[0, 366]} ticks={MONTH_TICKS} height={last ? 44 : 0}
          tickSize={-3} tickMargin={7} tick={last ? <MonthTick /> : false} interval={0} {...axisCommon} />
        <XAxis xAxisId="t" orientation="top" dataKey="day" type="number" domain={[0, 366]} ticks={MONTH_TICKS} height={0}
          tickSize={-3} tick={false} interval={0} {...axisCommon} />
        <YAxis yAxisId="l" type="number" domain={[-1.1, 15.6]} ticks={Y_TICKS} width={axisW} tickSize={-2.5} tickMargin={5.5}
          tick={<YTick />} interval={0} {...axisCommon} />
        <YAxis yAxisId="r" orientation="right" type="number" domain={[-1.1, 15.6]} ticks={Y_TICKS} width={0} tickSize={-2.5}
          tick={false} interval={0} {...axisCommon} />
        <Area xAxisId="b" yAxisId="l" type="linear" dataKey={(r: any) => [r.wrfD, r.wrfH]} stroke="#a4f1f1" strokeWidth={0.7}
          fill={C_WRF_H} fillOpacity={0.6} dot={false} activeDot={false} isAnimationActive={false} />
        <Area xAxisId="b" yAxisId="l" type="linear" dataKey={(r: any) => [r.obsH, r.obsD]} stroke="#f5c4c4" strokeWidth={0.7}
          fill={C_OBS_H} fillOpacity={0.6} dot={false} activeDot={false} isAnimationActive={false} />
        <Line xAxisId="b" yAxisId="l" type="linear" dataKey="obsD" stroke={C_OBS} strokeWidth={1.2} dot={false} activeDot={false} isAnimationActive={false} />
        <Line xAxisId="b" yAxisId="l" type="linear" dataKey="wrfD" stroke={C_WRF} strokeWidth={1.2} dot={false} activeDot={false} isAnimationActive={false} />
      </ComposedChart>
    </div>
  )
}

function LegendItem({ x, textX, color, label }: { x: number; textX: number; color: string; label: string }) {
  return (
    <>
      <div style={{ position: 'absolute', left: x, top: 7, width: 20, height: 1.5, background: color }} />
      <div style={{ position: 'absolute', left: textX, top: 1, fontFamily: FONT, fontSize: 9.5, lineHeight: '14px', whiteSpace: 'nowrap' }}>{label}</div>
    </>
  )
}

export default function App() {
  return (
    <div style={{ position: 'relative', width: 395, height: 550, background: '#fff', overflow: 'hidden' }}>
      {PANELS.map((p, i) => <Panel key={p.name} p={p} idx={i} />)}
      {PANELS.map((p, i) => {
        const col = i < 5 ? 0 : 1
        const row = i % 5
        const frameTop = 17 + 101 * row
        const cx = col === 0 ? 110.5 : 294
        return (
          <div key={'lab' + p.name} style={{ position: 'absolute', left: cx - 100, width: 200, top: frameTop + 9, textAlign: 'center', fontFamily: FONT, fontSize: 9, lineHeight: '12px', whiteSpace: 'nowrap' }}>
            {`${p.name} (r = ${p.r}, MB = ${p.mb} m/s)`}
          </div>
        )
      })}
      {[0, 1, 2, 3, 4].map(row => (
        <div key={'yt' + row} style={{ position: 'absolute', left: 12 - 60, width: 120, top: 17 + 101 * row + 40 - 6, height: 12, lineHeight: '12px', textAlign: 'center', transform: 'rotate(-90deg)', fontFamily: FONT, fontSize: 8.5, whiteSpace: 'nowrap' }}>
          Wind Speed (m/s)
        </div>
      ))}
      <LegendItem x={3} textX={30} color={C_WRF} label="WRF [Daily]" />
      <LegendItem x={97} textX={127} color="#a4f1f1" label="WRF [Hourly]" />
      <LegendItem x={224} textX={247} color={C_OBS} label="Obs [Daily]" />
      <LegendItem x={307} textX={333} color={C_OBS_H} label="Obs [Hourly]" />
    </div>
  )
}
